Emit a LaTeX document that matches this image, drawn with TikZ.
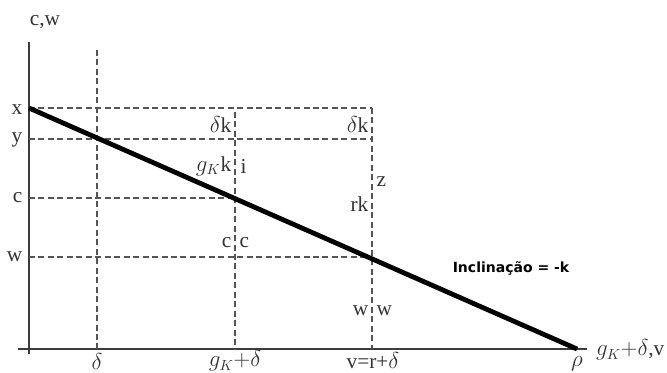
\documentclass[tikz,border=0pt]{standalone}
\usepackage{fontspec}
\setmainfont{Liberation Serif}
\newfontfamily\slopefont{DejaVu Sans}
\usetikzlibrary{positioning}
\definecolor{axisgray}{HTML}{3C3C3C}
\definecolor{dashgray}{HTML}{555555}
\definecolor{textgray}{HTML}{333333}
\tikzset{
  guide/.style={draw=dashgray, line width=0.85pt, dash pattern=on 4.5pt off 2.6pt},
  axisline/.style={draw=axisgray, line width=0.9pt},
  budget/.style={draw=black, line width=3.6pt},
  lbl/.style={text=textgray, inner sep=1pt, font=\fontsize{16}{18}\selectfont},
}
\begin{document}
\begin{tikzpicture}[x=0.75pt,y=-0.75pt]
  \useasboundingbox (0,0) rectangle (667,372);
  % axes
  \coordinate (ytop) at (29,42);
  \coordinate (ybot) at (29,354);
  \coordinate (xbeg) at (18,349);
  \coordinate (xend) at (587,349);
  \draw[axisline] (ytop) -- (ybot);
  \draw[axisline] (xbeg) -- (xend);
  % points on the axes
  \coordinate (px) at (29,108);
  \coordinate (py) at (29,139);
  \coordinate (pc) at (29,198);
  \coordinate (pw) at (29,257);
  \coordinate (pd) at (97,349);
  \coordinate (pg) at (235,349);
  \coordinate (pv) at (372,349);
  \coordinate (prho) at (577,349);
  % guide lines
  \coordinate (dtop) at (97,50);
  \coordinate (gtop) at (235,112);
  \coordinate (vtop) at (372,108);
  \draw[guide] (dtop) -- (pd);
  \draw[guide] (gtop) -- (pg);
  \draw[guide] (vtop) -- (pv);
  \draw[guide] (px) -- (vtop);
  \draw[guide] (py) -- (372,139);
  \draw[guide] (pc) -- (235,198);
  \draw[guide] (pw) -- (372,257);
  % budget line
  \draw[budget] (px) -- (prho);
  % axis labels
  \node[lbl] (cw) at (45,22) {c,w};
  \node[lbl, anchor=east] (lx) at (24,110) {x};
  \node[lbl, anchor=east] (ly) at (24,140) {y};
  \node[lbl, anchor=east] (lc) at (24,198) {c};
  \node[lbl, anchor=east] (lw) at (24,257) {w};
  \node[lbl] (ld) at (97,361) {$\delta$};
  \node[lbl] (lg) at (235,361) {$g_K{+}\delta$};
  \node[lbl] (lv) at (373,361) {v=r+$\delta$};
  \node[lbl] (lrho) at (577,364) {$\rho$};
  \node[lbl, anchor=east] (lxax) at (666,350) {$g_K{+}\delta$,v};
  % labels beside the guides
  \node[lbl, anchor=east] (dk1) at (233,124) {$\delta$k};
  \node[lbl, anchor=east] (dk2) at (370,124) {$\delta$k};
  \node[lbl, anchor=east] (gk) at (233,166) {$g_K$k};
  \node[lbl, anchor=west] (li) at (239,166) {i};
  \node[lbl, anchor=west] (lz) at (375,182) {z};
  \node[lbl, anchor=east] (rk) at (370,204) {rk};
  \node[lbl, anchor=east] (cl) at (233,243) {c};
  \node[lbl, anchor=west] (cr) at (238,243) {c};
  \node[lbl, anchor=east] (wl) at (370,311) {w};
  \node[lbl, anchor=west] (wr) at (375,311) {w};
  \node[text=black, font=\slopefont\bfseries\fontsize{10.5}{12}\selectfont] (slope) at (511,268) {Inclinação = -k};
\end{tikzpicture}
\end{document}
